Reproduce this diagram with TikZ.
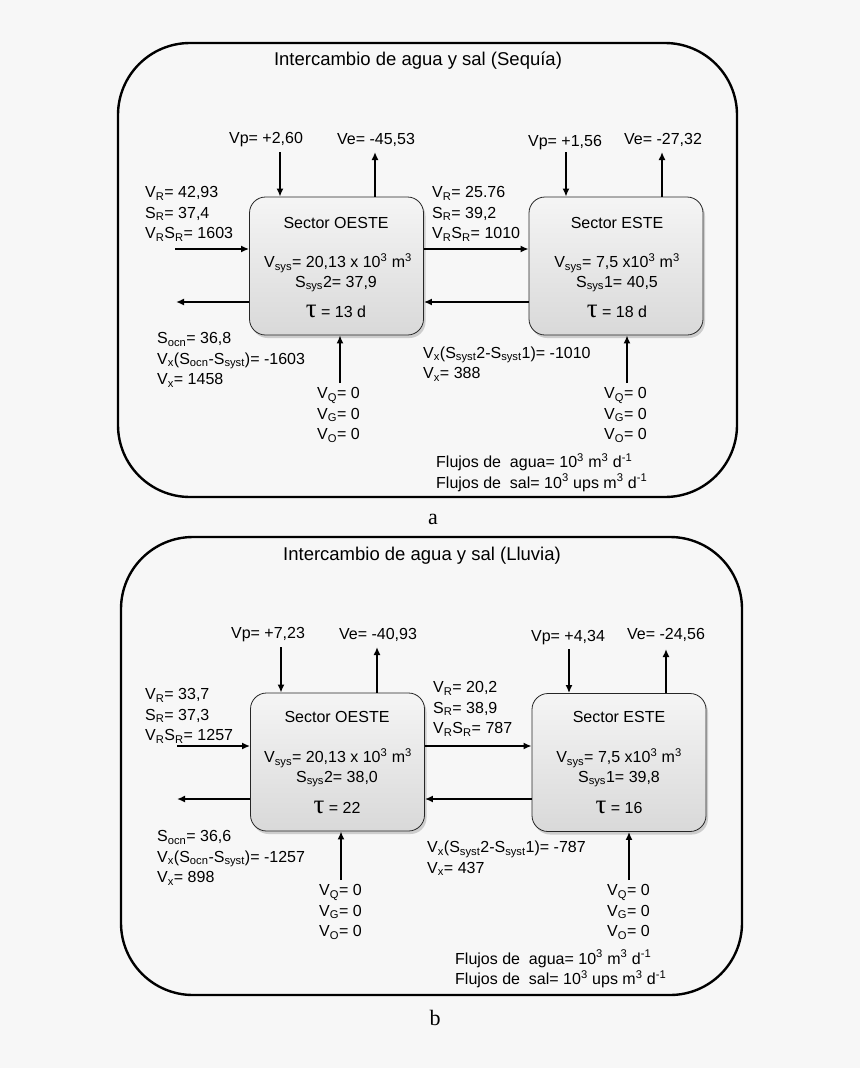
\documentclass[tikz,border=0pt]{standalone}
\usepackage{fontspec}
\setmainfont{Liberation Sans}
\newfontfamily\serifx{Liberation Serif}
\usetikzlibrary{shadows,arrows.meta}
\definecolor{pagebg}{HTML}{F7F7F7}
\newcommand{\subx}[1]{\textsubscript{#1}}
\newcommand{\supx}[1]{\textsuperscript{#1}}
\newcommand{\taux}{{\serifx\fontsize{27}{27}\selectfont τ}}

\tikzset{
  panel/.style={draw, line width=2.4pt, rounded corners=72pt},
  sectorbox/.style={draw=black!85, line width=0.8pt, rounded corners=16pt,
    top color=black!4, bottom color=black!15,
    drop shadow={shadow xshift=2pt, shadow yshift=-3pt, opacity=0.35},
    minimum width=174pt, minimum height=138pt, inner sep=0pt},
  flux/.style={->,>={Latex[length=8pt,width=7pt]}, line width=1.7pt},
  txt/.style={font=\fontsize{16}{20.5}\selectfont, inner sep=0pt},
  lbl/.style={txt, align=left, anchor=west},
  ttl/.style={font=\fontsize{18.5}{22}\selectfont, inner sep=0pt},
  panelcap/.style={font=\serifx\fontsize{22}{22}\selectfont, inner sep=0pt}
}

\begin{document}
\begin{tikzpicture}[x=1pt,y=-1pt]
\fill[pagebg] (0,0) rectangle (860,1068);
\useasboundingbox (0,0) rectangle (860,1068);

% (a) Sequia
\draw[panel] (118,43) rectangle (737,497);
\node[ttl] (titA) at (418,61) {Intercambio de agua y sal (Sequía)};
\node[sectorbox] (oesteA) at (336.5,266) {};
\node[sectorbox] (esteA) at (616,266) {};
\node[txt] (oA1) at (336,223) {Sector OESTE};
\node[txt] (oA2) at (338,263) {V\subx{sys}= 20,13 x 10\supx{3} m\supx{3}};
\node[txt] (oA3) at (336,284) {S\subx{sys}2= 37,9};
\node[txt] (oA4) at (336,311) {\taux{} = 13 d};
\node[txt] (eA1) at (617,223) {Sector ESTE};
\node[txt] (eA2) at (617,263) {V\subx{sys}= 7,5 x10\supx{3} m\supx{3}};
\node[txt] (eA3) at (617,284) {S\subx{sys}1= 40,5};
\node[txt] (eA4) at (617,311) {\taux{} = 18 d};

\node[txt] (vpA) at (266,140) {Vp= +2,60};
\node[txt] (veA) at (376,140) {Ve= -45,53};
\node[txt] (vpeA) at (565,143) {Vp= +1,56};
\node[txt] (veeA) at (663,140) {Ve= -27,32};
\node[lbl] (vrA) at (145,214) {V\subx{R}= 42,93\\S\subx{R}= 37,4\\V\subx{R}S\subx{R}= 1603};
\node[lbl] (ocnA) at (157,360) {S\subx{ocn}= 36,8\\V\subx{x}(S\subx{ocn}-S\subx{syst})= -1603\\V\subx{x}= 1458};
\node[lbl] (vqA) at (317,415) {V\subx{Q}= 0\\V\subx{G}= 0\\V\subx{O}= 0};
\node[lbl] (vrmA) at (432,214) {V\subx{R}= 25.76\\S\subx{R}= 39,2\\V\subx{R}S\subx{R}= 1010};
\node[lbl] (vxA) at (423,364) {V\subx{x}(S\subx{syst}2-S\subx{syst}1)= -1010\\V\subx{x}= 388};
\node[lbl] (vqeA) at (604,415) {V\subx{Q}= 0\\V\subx{G}= 0\\V\subx{O}= 0};
\node[lbl] (flA) at (436,472.5) {Flujos de~ agua= 10\supx{3} m\supx{3} d\supx{-1}\\Flujos de~ sal= 10\supx{3} ups m\supx{3} d\supx{-1}};
\node[panelcap] (capA) at (433,519) {a};

\coordinate (pA) at (280,152);
\coordinate (eA) at (375,152);
\coordinate (pEA) at (566,152);
\coordinate (eEA) at (662,152);
\coordinate (inA) at (175,249);
\coordinate (outA) at (176,302);
\coordinate (qA) at (340,383);
\coordinate (qEA) at (627,383);
\draw[flux] (pA) -- (pA |- oesteA.north);
\draw[flux] (eA |- oesteA.north) -- (eA);
\draw[flux] (pEA) -- (pEA |- esteA.north);
\draw[flux] (eEA |- esteA.north) -- (eEA);
\draw[flux] (inA) -- (inA -| oesteA.west);
\draw[flux] (outA -| oesteA.west) -- (outA);
\draw[flux] (oesteA.east |- inA) -- (esteA.west |- inA);
\draw[flux] (esteA.west |- outA) -- (oesteA.east |- outA);
\draw[flux] (qA) -- (qA |- oesteA.south);
\draw[flux] (qEA) -- (qEA |- esteA.south);

% (b) Lluvia
\draw[panel] (121,537) rectangle (742,995);
\node[ttl] (titB) at (422,556) {Intercambio de agua y sal (Lluvia)};
\node[sectorbox] (oesteB) at (337.5,762) {};
\node[sectorbox] (esteB) at (619,762.5) {};
\node[txt] (oB1) at (337,717) {Sector OESTE};
\node[txt] (oB2) at (338,758) {V\subx{sys}= 20,13 x 10\supx{3} m\supx{3}};
\node[txt] (oB3) at (337,779) {S\subx{sys}2= 38,0};
\node[txt] (oB4) at (337,807) {\taux{} = 22};
\node[txt] (eB1) at (619,717) {Sector ESTE};
\node[txt] (eB2) at (619,758) {V\subx{sys}= 7,5 x10\supx{3} m\supx{3}};
\node[txt] (eB3) at (619,779) {S\subx{sys}1= 39,8};
\node[txt] (eB4) at (619,807) {\taux{} = 16};

\node[txt] (vpB) at (268,635) {Vp= +7,23};
\node[txt] (veB) at (378,635) {Ve= -40,93};
\node[txt] (vpeB) at (568,638) {Vp= +4,34};
\node[txt] (veeB) at (666,635) {Ve= -24,56};
\node[lbl] (vrB) at (145,716) {V\subx{R}= 33,7\\S\subx{R}= 37,3\\V\subx{R}S\subx{R}= 1257};
\node[lbl] (ocnB) at (157,858) {S\subx{ocn}= 36,6\\V\subx{x}(S\subx{ocn}-S\subx{syst})= -1257\\V\subx{x}= 898};
\node[lbl] (vqB) at (319,912) {V\subx{Q}= 0\\V\subx{G}= 0\\V\subx{O}= 0};
\node[lbl] (vrmB) at (433,709) {V\subx{R}= 20,2\\S\subx{R}= 38,9\\V\subx{R}S\subx{R}= 787};
\node[lbl] (vxB) at (427,858.5) {V\subx{x}(S\subx{syst}2-S\subx{syst}1)= -787\\V\subx{x}= 437};
\node[lbl] (vqeB) at (607,912) {V\subx{Q}= 0\\V\subx{G}= 0\\V\subx{O}= 0};
\node[lbl] (flB) at (455,969) {Flujos de~ agua= 10\supx{3} m\supx{3} d\supx{-1}\\Flujos de~ sal= 10\supx{3} ups m\supx{3} d\supx{-1}};
\node[panelcap] (capB) at (435,1018) {b};

\coordinate (pB) at (281,647);
\coordinate (eB) at (377,647);
\coordinate (pEB) at (569,649);
\coordinate (eEB) at (666,649);
\coordinate (inB) at (177,746);
\coordinate (outB) at (177,799);
\coordinate (qB) at (341,880);
\coordinate (qEB) at (629,880);
\draw[flux] (pB) -- (pB |- oesteB.north);
\draw[flux] (eB |- oesteB.north) -- (eB);
\draw[flux] (pEB) -- (pEB |- esteB.north);
\draw[flux] (eEB |- esteB.north) -- (eEB);
\draw[flux] (inB) -- (inB -| oesteB.west);
\draw[flux] (outB -| oesteB.west) -- (outB);
\draw[flux] (oesteB.east |- inB) -- (esteB.west |- inB);
\draw[flux] (esteB.west |- outB) -- (oesteB.east |- outB);
\draw[flux] (qB) -- (qB |- oesteB.south);
\draw[flux] (qEB) -- (qEB |- esteB.south);
\end{tikzpicture}
\end{document}
